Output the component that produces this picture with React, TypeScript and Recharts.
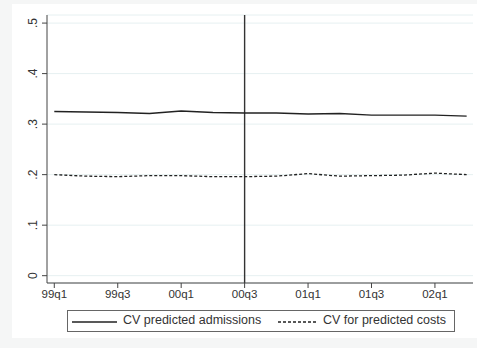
import React from "react";
import { ComposedChart, Line, XAxis, YAxis, CartesianGrid, ReferenceLine } from "recharts";

const quarters = ["99q1","99q2","99q3","99q4","00q1","00q2","00q3","00q4","01q1","01q2","01q3","01q4","02q1","02q2"];
const cvAdmissions = [0.325,0.324,0.323,0.321,0.326,0.323,0.322,0.322,0.320,0.321,0.318,0.318,0.318,0.316];
const cvCosts = [0.200,0.197,0.196,0.198,0.198,0.196,0.196,0.197,0.202,0.197,0.198,0.199,0.203,0.200];
const xTicks = [0,2,4,6,8,10,12];
const yTicks = [0,0.1,0.2,0.3,0.4,0.5];
const cutoffIndex = 6;
const seriesNames = ["CV predicted admissions","CV for predicted costs"];

const data = quarters.map((q, i) => ({ i, q, adm: cvAdmissions[i], cost: cvCosts[i] }));

const FONT = "'Liberation Sans', Arial, Helvetica, sans-serif";

const fmtY = (v: number) => (v === 0 ? "0" : v.toFixed(1).replace(/^0/, ""));

const YTick = (props: any) => {
  const { x, y, payload } = props;
  const cx = x - 7;
  return (
    <text x={cx} y={y} transform={`rotate(-90, ${cx}, ${y})`} textAnchor="middle" dominantBaseline="central"
      fontSize={12} fontFamily={FONT} fill="#333">{fmtY(payload.value)}</text>
  );
};

const LegendBox = () => (
  <div style={{ position: "absolute", left: 67, top: 310, width: 386, height: 20, border: "1px solid #666", background: "#fff", fontFamily: FONT, fontSize: 12.5, color: "#333" }}>
    <svg style={{ position: "absolute", left: 4, top: 10 }} width={46} height={2}><line x1={0} y1={1} x2={45} y2={1} stroke="#222" strokeWidth={1.3} /></svg>
    <span style={{ position: "absolute", left: 55, top: 2, whiteSpace: "nowrap" }}>{seriesNames[0]}</span>
    <svg style={{ position: "absolute", left: 210, top: 10 }} width={40} height={2}><line x1={0} y1={1} x2={40} y2={1} stroke="#222" strokeWidth={1.3} strokeDasharray="3 2" /></svg>
    <span style={{ position: "absolute", left: 255, top: 2, whiteSpace: "nowrap" }}>{seriesNames[1]}</span>
  </div>
);

export default function App() {
  return (
    <div style={{ position: "absolute", left: 0, top: 0, width: 477, height: 348, background: "#f5f6f6", overflow: "hidden" }}>
      <div style={{ position: "absolute", left: 12, top: 4, width: 465, height: 334, background: "#fff" }} />
      <div style={{ position: "absolute", left: 0, top: 0 }}>
        <ComposedChart width={477} height={348} data={data} margin={{ top: 15, right: 4, bottom: 35, left: 0 }}>
          <CartesianGrid horizontal vertical={false} stroke="#e6f0f1" strokeWidth={1} />
          <XAxis dataKey="i" type="number" domain={[-0.23, 13.2]} ticks={xTicks} interval={0} allowDataOverflow
            tickFormatter={(v: number) => quarters[v]} height={30} tickSize={5} tickMargin={2}
            stroke="#444" tick={{ fontSize: 11.5, fontFamily: FONT, fill: "#333" }} />
          <YAxis type="number" domain={[-0.0145, 0.516]} ticks={yTicks} interval={0} allowDataOverflow width={47}
            tickSize={5} tickMargin={2} stroke="#444" tick={<YTick />} />
          <ReferenceLine x={cutoffIndex} stroke="#333" strokeWidth={1.4} />
          <Line type="linear" dataKey="adm" name={seriesNames[0]} stroke="#222" strokeWidth={1.3} dot={false} isAnimationActive={false} />
          <Line type="linear" dataKey="cost" name={seriesNames[1]} stroke="#222" strokeWidth={1.3} strokeDasharray="3 2" dot={false} isAnimationActive={false} />
        </ComposedChart>
      </div>
      <LegendBox />
    </div>
  );
}
